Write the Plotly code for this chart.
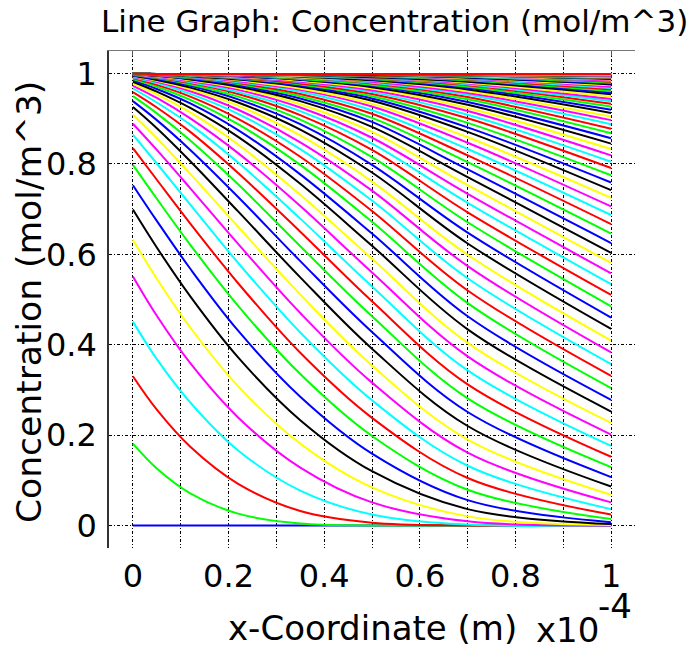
import plotly.graph_objects as go

# x positions (m) at which each concentration profile was read
x_coordinate_m = [0.0, 0.05e-4, 0.12e-4, 0.22e-4, 0.35e-4, 0.50e-4, 0.70e-4, 1.00e-4]

# concentration (mol/m^3) of the 101 time profiles, one list per x position
conc_x000 = [
    0.000, 0.181, 0.330, 0.451, 0.551, 0.632, 0.699, 0.753, 0.798, 0.835,
    0.865, 0.889, 0.909, 0.926, 0.939, 0.950, 0.959, 0.967, 0.973, 0.978,
    0.982, 0.985, 0.988, 0.990, 0.992, 0.993, 0.994, 0.995, 0.996, 0.997,
    0.998, 0.998, 0.998, 0.999, 0.999, 0.999, 0.999, 0.999, 0.999, 1.000,
    1.000, 1.000, 1.000, 1.000, 1.000, 1.000, 1.000, 1.000, 1.000, 1.000,
    1.000, 1.000, 1.000, 1.000, 1.000, 1.000, 1.000, 1.000, 1.000, 1.000,
    1.000, 1.000, 1.000, 1.000, 1.000, 1.000, 1.000, 1.000, 1.000, 1.000,
    1.000, 1.000, 1.000, 1.000, 1.000, 1.000, 1.000, 1.000, 1.000, 1.000,
    1.000, 1.000, 1.000, 1.000, 1.000, 1.000, 1.000, 1.000, 1.000, 1.000,
    1.000, 1.000, 1.000, 1.000, 1.000, 1.000, 1.000, 1.000, 1.000, 1.000,
    1.000]
conc_x005 = [
    0.000, 0.126, 0.256, 0.368, 0.464, 0.546, 0.615, 0.674, 0.723, 0.765,
    0.801, 0.831, 0.857, 0.879, 0.897, 0.912, 0.925, 0.936, 0.946, 0.954,
    0.960, 0.966, 0.971, 0.975, 0.979, 0.982, 0.984, 0.986, 0.988, 0.990,
    0.991, 0.992, 0.993, 0.994, 0.995, 0.995, 0.996, 0.996, 0.997, 0.997,
    0.998, 0.998, 0.998, 0.998, 0.998, 0.999, 0.999, 0.999, 0.999, 0.999,
    0.999, 0.999, 0.999, 0.999, 0.999, 0.999, 0.999, 0.999, 0.999, 0.999,
    0.999, 0.999, 0.999, 0.999, 0.999, 0.999, 0.999, 0.999, 0.999, 0.999,
    0.999, 0.999, 0.999, 0.999, 0.999, 0.999, 0.999, 0.999, 0.999, 0.999,
    0.999, 0.999, 0.999, 0.999, 0.999, 0.999, 0.999, 0.999, 0.999, 0.999,
    0.999, 0.999, 0.999, 0.999, 0.999, 0.999, 0.999, 0.999, 0.999, 0.999,
    0.999]
conc_x012 = [
    0.000, 0.071, 0.174, 0.272, 0.359, 0.438, 0.507, 0.568, 0.621, 0.668,
    0.710, 0.746, 0.778, 0.806, 0.831, 0.852, 0.871, 0.887, 0.901, 0.914,
    0.924, 0.934, 0.942, 0.949, 0.955, 0.961, 0.965, 0.969, 0.973, 0.976,
    0.979, 0.981, 0.983, 0.985, 0.987, 0.988, 0.990, 0.991, 0.992, 0.993,
    0.994, 0.994, 0.995, 0.995, 0.996, 0.996, 0.997, 0.997, 0.997, 0.998,
    0.998, 0.998, 0.998, 0.998, 0.999, 0.999, 0.999, 0.999, 0.999, 0.999,
    0.999, 0.999, 0.999, 0.999, 0.999, 0.999, 0.999, 0.999, 0.999, 0.999,
    0.999, 0.999, 0.999, 0.999, 0.999, 0.999, 0.999, 0.999, 0.999, 0.999,
    0.999, 0.999, 0.999, 0.999, 0.999, 0.999, 0.999, 0.999, 0.999, 0.999,
    0.999, 0.999, 0.999, 0.999, 0.999, 0.999, 0.999, 0.999, 0.999, 0.999,
    0.999]
conc_x022 = [
    0.000, 0.026, 0.092, 0.166, 0.239, 0.308, 0.372, 0.431, 0.486, 0.536,
    0.581, 0.623, 0.661, 0.695, 0.727, 0.755, 0.780, 0.803, 0.824, 0.843,
    0.860, 0.875, 0.888, 0.900, 0.911, 0.920, 0.929, 0.936, 0.943, 0.949,
    0.955, 0.959, 0.964, 0.968, 0.971, 0.974, 0.977, 0.979, 0.981, 0.983,
    0.985, 0.987, 0.988, 0.989, 0.990, 0.991, 0.992, 0.993, 0.994, 0.994,
    0.995, 0.995, 0.996, 0.996, 0.997, 0.997, 0.997, 0.998, 0.998, 0.998,
    0.998, 0.998, 0.999, 0.999, 0.999, 0.999, 0.999, 0.999, 0.999, 0.999,
    0.999, 0.999, 0.999, 0.999, 0.999, 0.999, 0.999, 0.999, 0.999, 0.999,
    0.999, 0.999, 0.999, 0.999, 0.999, 0.999, 0.999, 0.999, 0.999, 0.999,
    0.999, 0.999, 0.999, 0.999, 0.999, 0.999, 0.999, 0.999, 0.999, 0.999,
    0.999]
conc_x035 = [
    0.000, 0.004, 0.032, 0.077, 0.128, 0.181, 0.233, 0.285, 0.335, 0.382,
    0.427, 0.470, 0.511, 0.549, 0.585, 0.618, 0.650, 0.679, 0.707, 0.732,
    0.756, 0.777, 0.798, 0.816, 0.833, 0.848, 0.863, 0.876, 0.888, 0.898,
    0.908, 0.917, 0.925, 0.932, 0.939, 0.945, 0.950, 0.955, 0.960, 0.964,
    0.967, 0.971, 0.973, 0.976, 0.978, 0.981, 0.982, 0.984, 0.986, 0.987,
    0.988, 0.990, 0.991, 0.992, 0.992, 0.993, 0.994, 0.994, 0.995, 0.995,
    0.996, 0.996, 0.997, 0.997, 0.997, 0.998, 0.998, 0.998, 0.998, 0.998,
    0.999, 0.999, 0.999, 0.999, 0.999, 0.999, 0.999, 0.999, 0.999, 0.999,
    0.999, 0.999, 0.999, 0.999, 0.999, 0.999, 0.999, 0.999, 0.999, 0.999,
    0.999, 0.999, 0.999, 0.999, 0.999, 0.999, 0.999, 0.999, 0.999, 0.999,
    0.999]
conc_x050 = [
    0.000, 0.000, 0.006, 0.024, 0.051, 0.084, 0.120, 0.159, 0.198, 0.238,
    0.277, 0.316, 0.354, 0.391, 0.428, 0.463, 0.496, 0.529, 0.560, 0.590,
    0.619, 0.646, 0.672, 0.696, 0.719, 0.741, 0.761, 0.781, 0.798, 0.815,
    0.831, 0.845, 0.858, 0.871, 0.882, 0.893, 0.902, 0.911, 0.919, 0.927,
    0.933, 0.940, 0.945, 0.950, 0.955, 0.959, 0.963, 0.967, 0.970, 0.973,
    0.975, 0.978, 0.980, 0.982, 0.984, 0.985, 0.987, 0.988, 0.989, 0.990,
    0.991, 0.992, 0.992, 0.993, 0.994, 0.995, 0.995, 0.996, 0.996, 0.996,
    0.997, 0.997, 0.997, 0.998, 0.998, 0.998, 0.998, 0.998, 0.999, 0.999,
    0.999, 0.999, 0.999, 0.999, 0.999, 0.999, 0.999, 0.999, 0.999, 0.999,
    0.999, 0.999, 0.999, 0.999, 0.999, 0.999, 0.999, 0.999, 0.999, 0.999,
    0.999]
conc_x070 = [
    0.000, 0.000, 0.000, 0.002, 0.009, 0.020, 0.036, 0.056, 0.079, 0.105,
    0.132, 0.161, 0.190, 0.220, 0.251, 0.281, 0.312, 0.343, 0.374, 0.404,
    0.434, 0.463, 0.492, 0.520, 0.547, 0.574, 0.599, 0.624, 0.648, 0.671,
    0.693, 0.714, 0.734, 0.753, 0.771, 0.788, 0.804, 0.819, 0.833, 0.847,
    0.859, 0.871, 0.881, 0.891, 0.901, 0.909, 0.917, 0.924, 0.931, 0.937,
    0.943, 0.948, 0.953, 0.957, 0.961, 0.965, 0.968, 0.971, 0.974, 0.976,
    0.978, 0.980, 0.982, 0.984, 0.985, 0.987, 0.988, 0.989, 0.990, 0.991,
    0.992, 0.993, 0.994, 0.994, 0.995, 0.995, 0.996, 0.996, 0.996, 0.997,
    0.997, 0.997, 0.998, 0.998, 0.998, 0.998, 0.998, 0.999, 0.999, 0.999,
    0.999, 0.999, 0.999, 0.999, 0.999, 0.999, 0.999, 0.999, 0.999, 0.999,
    0.999]
conc_x100 = [
    0.000, 0.000, 0.000, 0.000, 0.000, 0.001, 0.003, 0.007, 0.014, 0.024,
    0.036, 0.051, 0.068, 0.086, 0.107, 0.129, 0.152, 0.176, 0.201, 0.227,
    0.252, 0.278, 0.304, 0.331, 0.357, 0.383, 0.409, 0.435, 0.460, 0.485,
    0.510, 0.534, 0.558, 0.581, 0.603, 0.625, 0.646, 0.667, 0.687, 0.706,
    0.725, 0.742, 0.759, 0.775, 0.791, 0.805, 0.819, 0.833, 0.845, 0.857,
    0.868, 0.878, 0.888, 0.897, 0.905, 0.913, 0.920, 0.927, 0.933, 0.939,
    0.944, 0.949, 0.954, 0.958, 0.961, 0.965, 0.968, 0.971, 0.974, 0.976,
    0.978, 0.980, 0.982, 0.984, 0.985, 0.987, 0.988, 0.989, 0.990, 0.991,
    0.992, 0.993, 0.993, 0.994, 0.995, 0.995, 0.996, 0.996, 0.996, 0.997,
    0.997, 0.997, 0.998, 0.998, 0.998, 0.998, 0.998, 0.999, 0.999, 0.999,
    0.999]

# colour cycle of the successive profiles
line_colors = ['#0000ff', '#00ff00', '#ff0000', '#00ffff', '#ff00ff', '#ffff00', '#000000']

# axis ticks
x_tick_values_m = [0.0, 0.1e-4, 0.2e-4, 0.3e-4, 0.4e-4, 0.5e-4, 0.6e-4, 0.7e-4, 0.8e-4, 0.9e-4, 1.0e-4]
x_tick_labels = ['0', '', '0.2', '', '0.4', '', '0.6', '', '0.8', '', '1']
y_tick_values = [0, 0.2, 0.4, 0.6, 0.8, 1]
y_tick_labels = ['0', '0.2', '0.4', '0.6', '0.8', '1']

columns = [conc_x000, conc_x005, conc_x012, conc_x022, conc_x035, conc_x050, conc_x070, conc_x100]
n_profiles = len(conc_x000)

fig = go.Figure()
for k in range(n_profiles):
    fig.add_trace(go.Scatter(
        x=x_coordinate_m, y=[col[k] for col in columns], mode='lines',
        xaxis='x2' if k == n_profiles - 1 else 'x',
        line=dict(color=line_colors[k % len(line_colors)], width=2, shape='spline'),
        hoverinfo='skip'))

# screen pixel frame of the plotting area (the page body adds an 8px offset)
L0, R0, T0, B0 = 109, 635, 51, 548
def px(p):
    return (p - L0) / (R0 - L0)
def py(p):
    return (B0 - p) / (B0 - T0)

FIG_W, FIG_H = 688, 640
grid = dict(showgrid=True, gridcolor='#000000', gridwidth=1, griddash='3px,2px,1px,2px', zeroline=False)
x_range = [-0.05e-4, 1.05e-4]
fig.update_layout(
    width=FIG_W, height=FIG_H,
    margin=dict(l=L0 - 8, r=FIG_W - (R0 - 8), t=T0 - 8, b=FIG_H - (B0 - 8)),
    paper_bgcolor='white', plot_bgcolor='white', showlegend=False,
    font=dict(family='DejaVu Sans', size=32, color='#000000'),
    xaxis=dict(range=x_range, tickvals=x_tick_values_m, ticktext=x_tick_labels, ticks='',
               showline=False, ticklabelstandoff=6, **grid),
    xaxis2=dict(range=x_range, overlaying='x', side='top', tickvals=x_tick_values_m, showticklabels=False,
                ticks='inside', ticklen=5, tickcolor='#555555', showline=True, linecolor='#777777',
                linewidth=1, showgrid=False, zeroline=False),
    yaxis=dict(range=[-0.05, 1.05], tickvals=y_tick_values, ticktext=y_tick_labels, ticks='',
               showline=True, linecolor='#333333', linewidth=1.5, ticklabelstandoff=4, **grid),
    annotations=[
        dict(text='Line Graph: Concentration (mol/m^3)', x=px(394), y=py(21), xref='paper', yref='paper',
             showarrow=False, xanchor='center', yanchor='middle', font=dict(size=31)),
        dict(text='x-Coordinate (m)', x=px(372), y=py(628), xref='paper', yref='paper', showarrow=False,
             xanchor='center', yanchor='middle', font=dict(size=34)),
        dict(text='x10', x=px(534), y=py(630), xref='paper', yref='paper', showarrow=False,
             xanchor='left', yanchor='middle', font=dict(size=34)),
        dict(text='-4', x=px(596), y=py(606), xref='paper', yref='paper', showarrow=False,
             xanchor='left', yanchor='middle', font=dict(size=34)),
        dict(text='Concentration (mol/m^3)', x=px(29), y=py(302), xref='paper', yref='paper',
             showarrow=False, xanchor='center', yanchor='middle', textangle=-90, font=dict(size=34.5)),
    ],
)
fig.write_html('out.html')
